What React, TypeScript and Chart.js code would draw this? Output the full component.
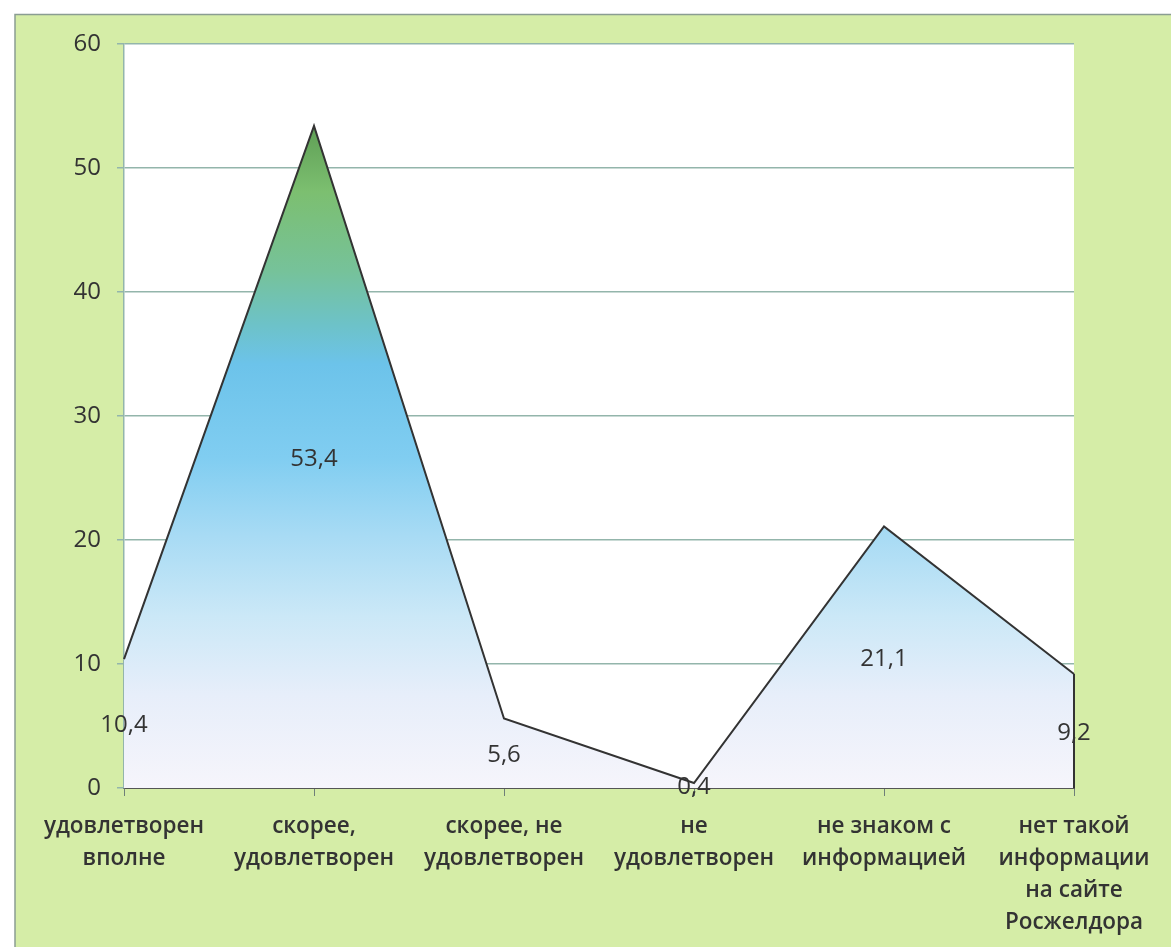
import React, { useEffect, useRef } from "react";
import { Chart, registerables } from "chart.js";

Chart.register(...registerables);

const categories: string[][] = [
  ["удовлетворен", "вполне"],
  ["скорее,", "удовлетворен"],
  ["скорее, не", "удовлетворен"],
  ["не", "удовлетворен"],
  ["не знаком с", "информацией"],
  ["нет такой", "информации", "на сайте", "Росжелдора"],
];
const shares: number[] = [10.4, 53.4, 5.6, 0.4, 21.1, 9.2];
const yTicks: number[] = [0, 10, 20, 30, 40, 50, 60];

const W = 1171;
const H = 947;
const FONT = "'Open Sans', 'Noto Sans', sans-serif";
const TEXT = "#333333";

// page background, light-green panel and white plotting area
const panelPlugin = {
  id: "panel",
  beforeDraw(chart: any) {
    const { ctx, chartArea } = chart;
    ctx.save();
    ctx.fillStyle = "#ffffff";
    ctx.fillRect(0, 0, W, H);
    ctx.fillStyle = "#d5eda7";
    ctx.fillRect(15, 14, W - 15, H - 14);
    ctx.strokeStyle = "#8a9d92";
    ctx.lineWidth = 1.5;
    ctx.beginPath();
    ctx.moveTo(15, H);
    ctx.lineTo(15, 14.5);
    ctx.lineTo(W, 14.5);
    ctx.stroke();
    ctx.fillStyle = "#ffffff";
    ctx.fillRect(
      chartArea.left,
      chartArea.top,
      chartArea.right - chartArea.left,
      chartArea.bottom - chartArea.top
    );
    ctx.restore();
  },
};

// closing edge of the area at the last category, then value labels
// placed in the middle of each column of the area
const valueLabelPlugin = {
  id: "valueLabels",
  afterDatasetsDraw(chart: any) {
    const { ctx, scales } = chart;
    const meta = chart.getDatasetMeta(0);
    const last = meta.data[meta.data.length - 1];
    ctx.save();
    ctx.strokeStyle = "#333333";
    ctx.lineWidth = 2;
    ctx.beginPath();
    ctx.moveTo(last.x, last.y);
    ctx.lineTo(last.x, scales.y.getPixelForValue(0));
    ctx.stroke();

    ctx.font = `24px ${FONT}`;
    ctx.fillStyle = "#333333";
    ctx.textAlign = "center";
    ctx.textBaseline = "middle";
    meta.data.forEach((pt: any, i: number) => {
      const v = shares[i];
      const y = scales.y.getPixelForValue(v / 2) + 2;
      ctx.fillText(String(v).replace(".", ","), pt.x, y);
    });
    ctx.restore();
  },
};

function areaGradient(context: any) {
  const chart = context.chart;
  const { chartArea, scales } = chart;
  if (!chartArea) return "#9fd6f2";
  const yTop = scales.y.getPixelForValue(53.4);
  const yBottom = scales.y.getPixelForValue(0);
  const g = chart.ctx.createLinearGradient(0, yTop, 0, yBottom);
  g.addColorStop(0, "#5f9f55");
  g.addColorStop(0.1, "#7cbf70");
  g.addColorStop(0.22, "#76c29a");
  g.addColorStop(0.3, "#6dc2c8");
  g.addColorStop(0.36, "#6cc3ea");
  g.addColorStop(0.5, "#80cdf1");
  g.addColorStop(0.62, "#a8dbf4");
  g.addColorStop(0.74, "#cbe8f7");
  g.addColorStop(0.86, "#e7eefa");
  g.addColorStop(1, "#f6f5fb");
  return g;
}

export default function App() {
  const canvasRef = useRef<HTMLCanvasElement | null>(null);

  useEffect(() => {
    document.body.style.margin = "0";
    const canvas = canvasRef.current;
    if (!canvas) return;
    const chart = new Chart(canvas, {
      type: "line",
      data: {
        labels: categories,
        datasets: [
          {
            data: shares,
            fill: "origin",
            backgroundColor: areaGradient,
            borderColor: "#333333",
            borderWidth: 2,
            pointRadius: 0,
            tension: 0,
          },
        ],
      },
      options: {
        responsive: false,
        animation: false,
        devicePixelRatio: 1,
        layout: { padding: { left: 0, top: 44, right: 97, bottom: 0 } },
        plugins: {
          legend: { display: false },
          tooltip: { enabled: false },
        },
        scales: {
          x: {
            offset: false,
            grid: {
              drawOnChartArea: false,
              drawTicks: true,
              tickLength: 8,
              color: "#6f7f78",
            },
            border: { color: "#555555", width: 2 },
            ticks: {
              color: TEXT,
              padding: 15,
              maxRotation: 0,
              autoSkip: false,
              font: { family: FONT, size: 22.5, weight: "600", lineHeight: 1.42 },
            },
            afterFit(s: any) {
              s.height = H - 788;
            },
          },
          y: {
            min: 0,
            max: 60,
            afterBuildTicks(s: any) {
              s.ticks = yTicks.map((v) => ({ value: v }));
            },
            grid: {
              color: "#93b5ab",
              lineWidth: 1.5,
              tickLength: 7,
            },
            border: { color: "#93b5ab", width: 1.5 },
            ticks: {
              color: TEXT,
              padding: 16,
              font: { family: FONT, size: 24, weight: "500" },
            },
            afterFit(s: any) {
              s.width = 124;
            },
          },
        },
      },
      plugins: [panelPlugin, valueLabelPlugin],
    });
    return () => chart.destroy();
  }, []);

  return (
    <div style={{ width: W, height: H, position: "relative" }}>
      <canvas ref={canvasRef} width={W} height={H} style={{ display: "block" }} />
    </div>
  );
}
